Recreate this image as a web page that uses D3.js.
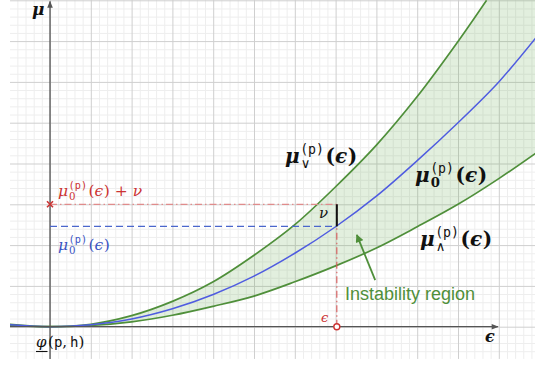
<!DOCTYPE html>
<html>
<head>
<meta charset="utf-8">
<script src="https://cdn.jsdelivr.net/npm/d3@7"></script>
<style>
  html, body { margin: 0; padding: 0; background: #fff; }
  svg { display: block; }
</style>
</head>
<body>
<svg id="chart" width="535" height="372"></svg>
<script>
// ---------- data (grid units) ----------
const epsilon   = [-1, 0, 1, 2, 3, 4, 5, 6, 7, 8, 9, 10, 11, 11.9];
const muZero    = [0.05, 0, 0.05, 0.19, 0.44, 0.79, 1.24, 1.80, 2.45, 3.20, 4.07, 5.00, 6.00, 7.07];
const muLower   = [0.03, 0, 0.03, 0.12, 0.28, 0.50, 0.75, 1.10, 1.49, 1.93, 2.45, 3.00, 3.63, 4.25];
const epsUpper  = [-1, 0, 1, 2, 3, 4, 5, 6, 7, 8, 9, 10, 10.7];
const muUpper   = [0.06, 0, 0.06, 0.27, 0.62, 1.10, 1.75, 2.50, 3.43, 4.45, 5.64, 6.99, 8.0];

const epsMark = 7.03;      // chosen epsilon
const muAtEps = 2.46;      // mu0(eps)
const muPlusNu = 3.0;      // mu0(eps) + nu
const arrowFrom = [7.97, 1.14];
const arrowTo   = [7.52, 2.25];

// ---------- layout ----------
const svg = d3.select("#chart");
const x = d3.scaleLinear().domain([-1, 12]).range([9.2, 539.6]);
const y = d3.scaleLinear().domain([0, 8]).range([326.7, 0.3]);

const gx0 = x(-0.98), gx1 = 535, gy0 = 0, gy1 = y(-0.79);

const green = "#4f8f3a", blue = "#4f5ce0", red = "#cc3333";

// ---------- grid via axes ----------
const minorX = d3.range(-4, 60).map(i => i * 0.2).filter(v => Math.abs(v - Math.round(v)) > 1e-6 && x(v) > gx0 && x(v) < gx1);
const majorX = d3.range(0, 13).filter(v => x(v) < gx1);
const minorY = d3.range(-3, 41).map(i => i * 0.2).filter(v => Math.abs(v - Math.round(v)) > 1e-6);
const majorY = d3.range(0, 9);

function gridX(vals, color) {
  const g = svg.append("g").attr("transform", `translate(0,${gy1})`)
    .call(d3.axisBottom(x).tickValues(vals).tickSize(-(gy1 - gy0)).tickFormat(""));
  g.select(".domain").remove();
  g.selectAll("line").attr("stroke", color).attr("stroke-width", 1);
}
function gridY(vals, color) {
  const g = svg.append("g").attr("transform", `translate(${gx0},0)`)
    .call(d3.axisLeft(y).tickValues(vals).tickSize(-(gx1 - gx0)).tickFormat(""));
  g.select(".domain").remove();
  g.selectAll("line").attr("stroke", color).attr("stroke-width", 1);
}
gridX(minorX, "#eeeeee"); gridY(minorY, "#eeeeee");
gridX(majorX, "#cfcfcf"); gridY(majorY, "#cfcfcf");

// ---------- clip ----------
svg.append("clipPath").attr("id", "plotclip").append("rect")
  .attr("x", gx0).attr("y", gy0).attr("width", gx1 - gx0).attr("height", gy1 - gy0);

// ---------- curves ----------
const line = d3.line().x(d => x(d[0])).y(d => y(d[1])).curve(d3.curveCatmullRom.alpha(0.5));
const upPts = epsUpper.map((e, i) => [e, muUpper[i]]);
const zeroPts = epsilon.map((e, i) => [e, muZero[i]]);
const lowPts = epsilon.map((e, i) => [e, muLower[i]]);

const cg = svg.append("g").attr("clip-path", "url(#plotclip)");
const areaD = line(upPts) + "L" + x(12.2) + "," + y(8.3) + "L" + x(12.2) + "," + y(muLower[muLower.length - 1]) +
  "L" + line(lowPts.slice().reverse()).slice(1) + "Z";
cg.append("path").attr("d", areaD).attr("fill", "#6fb05a").attr("fill-opacity", 0.2);

cg.append("path").attr("d", line(upPts)).attr("fill", "none").attr("stroke", green).attr("stroke-width", 1.7);
cg.append("path").attr("d", line(lowPts)).attr("fill", "none").attr("stroke", green).attr("stroke-width", 1.7);
cg.append("path").attr("d", line(zeroPts)).attr("fill", "none").attr("stroke", blue).attr("stroke-width", 1.5);

// ---------- axes (lines with arrows) ----------
const defs = svg.append("defs");
defs.append("marker").attr("id", "axarrow").attr("viewBox", "0 0 10 10").attr("refX", 9).attr("refY", 5)
  .attr("markerWidth", 9).attr("markerHeight", 7).attr("markerUnits", "userSpaceOnUse").attr("orient", "auto")
  .append("path").attr("d", "M0,1 L10,5 L0,9 Z").attr("fill", "#555");
defs.append("marker").attr("id", "grarrow").attr("viewBox", "0 0 10 10").attr("refX", 9).attr("refY", 5)
  .attr("markerWidth", 9).attr("markerHeight", 8).attr("markerUnits", "userSpaceOnUse").attr("orient", "auto")
  .append("path").attr("d", "M0,0 L10,5 L0,10 Z").attr("fill", green);

svg.append("line").attr("x1", gx0).attr("x2", x(10.98)).attr("y1", y(0)).attr("y2", y(0))
  .attr("stroke", "#555").attr("stroke-width", 1.3).attr("marker-end", "url(#axarrow)");
svg.append("line").attr("x1", x(0)).attr("x2", x(0)).attr("y1", gy1).attr("y2", 1.5)
  .attr("stroke", "#555").attr("stroke-width", 1.3).attr("marker-end", "url(#axarrow)");

// ---------- guide lines ----------
svg.append("line").attr("x1", x(0)).attr("x2", x(epsMark)).attr("y1", y(muPlusNu)).attr("y2", y(muPlusNu))
  .attr("stroke", "#e08c8c").attr("stroke-width", 1.2).attr("stroke-dasharray", "7,3,1.5,3");
svg.append("line").attr("x1", x(epsMark)).attr("x2", x(epsMark)).attr("y1", y(0)).attr("y2", y(muPlusNu))
  .attr("stroke", "#d65a5a").attr("stroke-width", 1.1).attr("stroke-dasharray", "7,3,1.5,3");
svg.append("line").attr("x1", x(0)).attr("x2", x(epsMark)).attr("y1", y(muAtEps)).attr("y2", y(muAtEps))
  .attr("stroke", "#4a66cc").attr("stroke-width", 1.3).attr("stroke-dasharray", "7,4");
svg.append("line").attr("x1", x(epsMark)).attr("x2", x(epsMark)).attr("y1", y(muAtEps)).attr("y2", y(muPlusNu))
  .attr("stroke", "#111").attr("stroke-width", 2);

// markers
const cx = x(0), cy = y(muPlusNu), s = 3;
svg.append("path").attr("d", `M${cx - s},${cy - s}L${cx + s},${cy + s}M${cx - s},${cy + s}L${cx + s},${cy - s}`)
  .attr("stroke", red).attr("stroke-width", 1.6);
svg.append("circle").attr("cx", x(epsMark)).attr("cy", y(0)).attr("r", 3)
  .attr("fill", "#fff").attr("stroke", red).attr("stroke-width", 1.4);

// instability arrow
svg.append("line").attr("x1", x(arrowFrom[0])).attr("y1", y(arrowFrom[1]))
  .attr("x2", x(arrowTo[0])).attr("y2", y(arrowTo[1]))
  .attr("stroke", green).attr("stroke-width", 1.8).attr("marker-end", "url(#grarrow)");

// ---------- text ----------
const serif = "'DejaVu Serif', serif";
const mono = "'DejaVu Sans Mono', 'Liberation Mono', monospace";
const sans = "'DejaVu Sans', sans-serif";

function txt(str, px, py, size, opts = {}) {
  return svg.append("text").attr("x", px).attr("y", py).text(str)
    .attr("font-family", opts.family || serif).attr("font-size", size)
    .attr("fill", opts.color || "#111")
    .attr("font-style", opts.italic === false ? "normal" : "italic")
    .attr("font-weight", opts.bold ? "bold" : "normal");
}
function w(t) { return t.node().getComputedTextLength(); }

// mu label as ONE text element: mu_{sub}^{(p)}(eps) [+ nu]
function muLabel(px, py, size, color, sub, bold, tail, subFamily) {
  const t = svg.append("text").attr("x", px).attr("y", py).attr("fill", color)
    .attr("font-family", serif).attr("font-size", size);
  const span = (str, o = {}) => t.append("tspan").text(str)
    .attr("font-style", o.italic ? "italic" : "normal")
    .attr("font-weight", o.bold ? "bold" : "normal")
    .attr("font-family", o.family || null)
    .attr("font-size", o.size || null)
    .attr("dx", o.dx != null ? o.dx : null)
    .attr("dy", o.dy != null ? o.dy : null);
  const supDy = -size * 0.45, subDy = size * 0.25;
  span("μ", { italic: true, bold });
  const sp = span("(p)", { family: mono, size: size * 0.66, dx: 0.5, dy: supDy });
  const spw = sp.node().getComputedTextLength();
  const sb = span(sub, { family: subFamily || serif, bold: bold && sub === "0", size: size * 0.66, dx: -spw + 0.5, dy: -supDy + subDy });
  const sbw = sb.node().getComputedTextLength();
  const adv = Math.max(0, spw - sbw - 0.5) + 1.5;
  span("(", { dx: adv, dy: -subDy, bold });
  span("ϵ", { italic: true, bold });
  span(")", { dx: 0.5, bold });
  if (tail) {
    span(" + ", {});
    span("ν", { italic: true });
  }
}

muLabel(58, 196, 15.5, red, "0", false, true);
muLabel(58, 250, 15.5, "#3b55c4", "0", false, false);
muLabel(285, 163, 20, "#111", "∨", true, false, sans);
muLabel(415, 182, 20, "#111", "0", true, false);
muLabel(420, 246, 20, "#111", "∧", true, false, sans);

// axis labels
txt("μ", 32, 15, 17, { bold: true });
txt("ϵ", 485, 342, 16, { bold: true });
txt("ϵ", 321, 322, 13, { color: red });
txt("ν", 319, 218, 15);

// phi(p,h)
const ph = txt("φ", 36, 347, 15, {});
svg.append("line").attr("x1", 36).attr("x2", 36 + w(ph) + 1).attr("y1", 351.5).attr("y2", 351.5)
  .attr("stroke", "#111").attr("stroke-width", 1.1);
svg.append("text").attr("x", 36 + w(ph) + 1.5).attr("y", 347).attr("font-size", 15).attr("fill", "#111")
  .attr("font-family", serif)
  .call(t => {
    t.append("tspan").text("(");
    t.append("tspan").text("p").attr("font-family", mono).attr("font-size", 14);
    t.append("tspan").text(",");
    t.append("tspan").text("h").attr("font-family", mono).attr("font-size", 14).attr("dx", 3);
    t.append("tspan").text(")");
  });

// instability region
txt("Instability region", 345, 300, 18, { family: "'Liberation Sans', Arial, sans-serif", italic: false, color: green });
</script>
</body>
</html>
